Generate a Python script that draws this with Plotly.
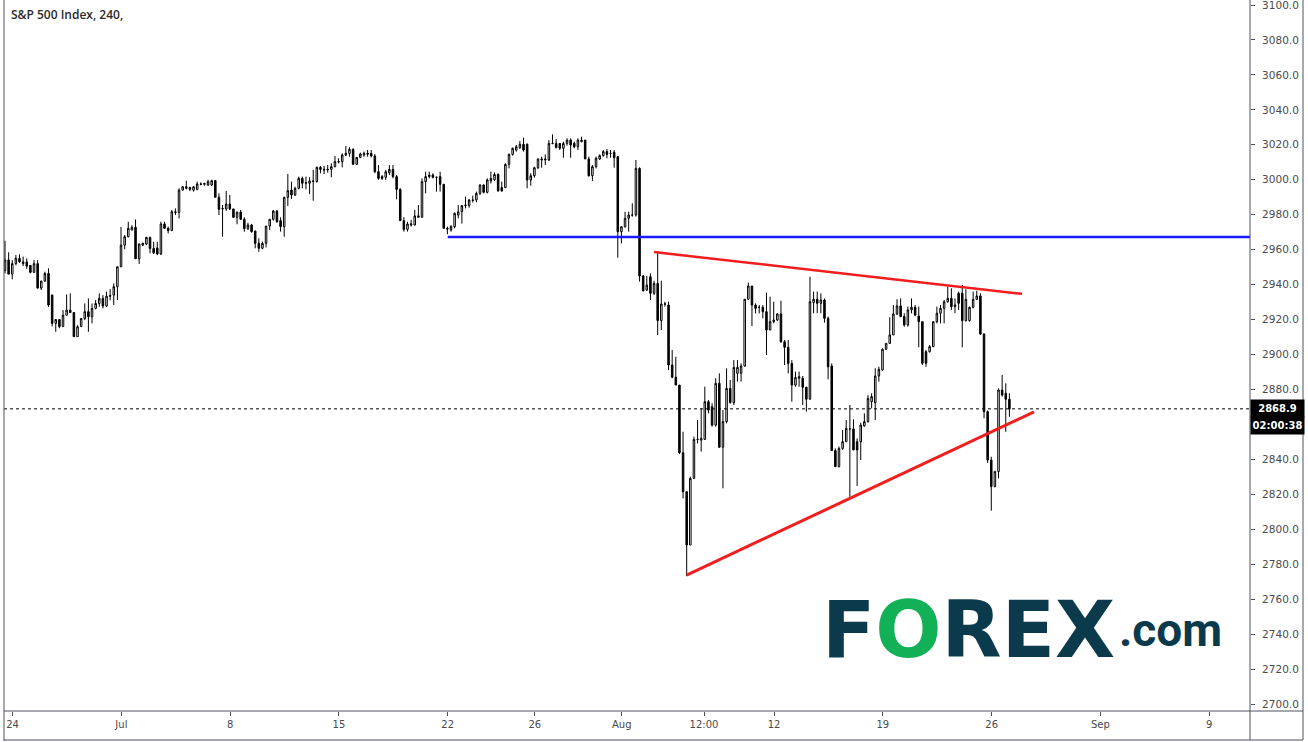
import plotly.graph_objects as go

# ---------------- data ----------------
OPEN = [
2948.0,2954.1,2946.0,2952.0,2955.0,2953.0,2953.0,2951.0,2947.0,2952.0,
2938.0,2942.0,2946.4,2934.0,2917.8,2920.0,2916.0,2922.5,2925.4,2924.0,
2910.2,2916.0,2920.6,2924.5,2921.6,2926.4,2929.2,2932.1,2927.7,2933.8,
2934.0,2938.8,2950.2,2962.6,2967.4,2971.2,2972.8,2954.8,2962.6,2963.2,
2967.0,2960.7,2961.0,2957.5,2974.7,2972.2,2970.9,2981.7,2981.3,2994.1,
2996.0,2995.5,2994.0,2994.5,2997.6,2997.4,2997.0,2997.0,2999.5,2990.0,
2983.3,2983.3,2986.1,2983.3,2978.5,2981.5,2977.4,2972.0,2974.1,2970.7,
2963.6,2960.8,2963.6,2973.5,2977.4,2982.1,2976.6,2973.2,2989.9,2994.1,
2991.3,2995.1,3000.8,2998.0,2998.0,2999.0,2999.0,3007.1,3006.0,3005.6,
3005.9,3007.5,3010.4,3010.4,3014.2,3015.1,3017.4,3008.8,3012.8,3014.2,
3015.1,3015.1,3013.6,3004.6,3001.8,3001.4,3004.0,3005.9,3001.8,2994.5,
2976.6,2971.6,2974.1,2974.1,2978.5,2978.5,2998.9,3001.8,3002.7,3001.4,
3001.8,2997.4,2972.2,2971.2,2973.2,2979.8,2981.7,2985.2,2985.2,2988.4,
2988.4,2992.2,2997.0,2992.8,2999.3,3000.0,3003.0,2995.5,2995.5,3008.8,
3014.5,3017.0,3018.4,3020.3,3020.3,2999.9,3002.3,3006.9,3011.3,3011.3,
3011.3,3020.8,3020.8,3020.8,3018.0,3020.8,3022.7,3020.8,3018.9,3021.8,
3022.7,3011.9,3002.3,3007.5,3011.9,3013.8,3016.1,3015.1,3015.7,3013.2,
2970.3,2973.0,2978.0,2979.8,2979.8,3006.5,2944.9,2936.9,2944.5,2935.0,
2940.7,2919.4,2928.9,2928.3,2894.0,2887.0,2882.5,2843.8,2821.5,2791.0,
2829.1,2851.4,2851.0,2851.4,2873.0,2870.1,2859.6,2883.5,2846.9,2861.6,
2880.6,2872.4,2889.2,2889.2,2893.4,2931.6,2939.2,2928.3,2927.0,2927.0,
2924.5,2914.0,2918.8,2919.7,2923.2,2907.3,2904.1,2894.9,2882.5,2886.4,
2886.4,2881.2,2874.4,2929.7,2931.6,2929.3,2931.2,2920.7,2893.4,2845.0,
2835.8,2846.3,2850.1,2857.4,2857.4,2850.1,2850.1,2859.1,2861.6,2873.0,
2872.4,2887.7,2891.1,2903.0,2906.4,2911.2,2923.2,2927.8,2921.7,2916.9,
2925.5,2927.0,2922.0,2918.8,2901.6,2901.6,2904.5,2918.8,2923.6,2926.4,
2930.2,2932.1,2927.4,2935.0,2935.0,2919.4,2919.4,2927.0,2931.6,2933.5,
2911.7,2867.3,2839.6,2824.4,2833.0,2879.7,2877.8,2874.4,
]
HIGH = [
2965.1,2958.5,2954.0,2957.0,2957.3,2956.0,2955.0,2951.2,2954.0,2954.0,
2942.2,2947.4,2949.3,2934.3,2920.1,2920.0,2925.4,2934.4,2935.0,2924.3,
2916.8,2920.6,2929.2,2932.1,2929.2,2931.2,2935.0,2934.0,2935.9,2937.4,
2940.7,2950.2,2973.0,2968.4,2976.0,2974.0,2977.3,2963.6,2964.0,2967.4,
2967.4,2964.5,2964.5,2976.0,2976.0,2973.2,2982.7,2983.6,2995.1,2996.2,
2999.5,2996.0,2996.2,2998.9,2998.5,2998.3,3000.0,3000.0,2999.9,2992.2,
2985.5,2993.6,2991.3,2983.3,2981.7,2982.7,2978.5,2975.4,2974.7,2970.7,
2966.5,2964.6,2973.5,2977.4,2982.7,2982.7,2978.5,2990.3,3003.3,2998.9,
2996.0,3001.8,3001.8,3001.8,3001.4,3005.6,3007.5,3007.9,3007.9,3008.4,
3009.4,3013.6,3012.3,3015.1,3019.3,3018.6,3018.0,3012.8,3015.5,3016.1,
3017.0,3017.0,3014.7,3008.4,3002.7,3005.6,3008.4,3008.4,3002.7,2995.1,
2978.5,2976.0,2977.0,2982.7,2985.5,3000.8,3004.6,3004.6,3003.7,3001.8,
3004.6,2997.4,2973.2,2974.1,2981.3,2985.5,2985.5,2990.3,2989.0,2990.9,
2993.2,2997.4,2997.4,3000.8,3004.6,3004.2,3003.7,2998.9,3009.4,3015.1,
3018.4,3019.9,3022.2,3024.1,3020.8,3003.7,3007.5,3012.3,3013.2,3014.5,
3022.7,3026.0,3023.3,3020.8,3021.8,3023.7,3023.7,3021.8,3023.7,3024.6,
3022.7,3013.2,3008.4,3013.2,3014.5,3017.0,3017.6,3017.0,3017.0,3013.2,
2973.3,2981.7,2981.7,2986.5,3011.3,3007.1,2945.5,2944.9,2946.4,2942.2,
2957.9,2942.2,2930.2,2930.2,2902.6,2898.7,2882.5,2855.8,2821.5,2830.1,
2853.0,2862.5,2869.2,2881.6,2874.0,2872.1,2886.4,2889.2,2868.2,2892.1,
2885.4,2896.8,2896.8,2894.9,2931.6,2941.1,2939.2,2929.3,2928.3,2928.3,
2935.4,2933.1,2930.2,2923.5,2930.8,2908.3,2908.3,2896.8,2890.2,2890.2,
2887.7,2881.6,2944.5,2936.0,2936.0,2935.0,2932.1,2921.7,2894.9,2846.3,
2847.3,2856.8,2862.5,2871.1,2862.9,2852.0,2861.0,2866.3,2876.8,2877.8,
2892.1,2893.0,2903.5,2906.4,2921.3,2928.3,2931.6,2932.1,2923.6,2927.4,
2932.1,2928.3,2927.4,2918.8,2902.6,2905.4,2918.8,2927.4,2928.3,2931.2,
2938.8,2937.9,2932.1,2936.0,2939.8,2937.3,2927.4,2936.0,2936.5,2935.0,
2912.1,2868.0,2841.5,2833.5,2880.6,2888.3,2883.5,2877.8,
]
LOW = [
2946.4,2946.0,2943.0,2951.0,2952.5,2950.6,2949.0,2946.4,2946.8,2937.8,
2936.9,2941.6,2927.3,2916.0,2913.0,2915.0,2915.9,2922.5,2923.9,2910.2,
2910.2,2916.0,2919.7,2913.0,2917.8,2925.8,2927.3,2926.4,2927.3,2931.0,
2928.3,2931.2,2950.0,2960.2,2967.0,2971.2,2954.8,2951.8,2962.0,2962.6,
2957.9,2957.5,2956.9,2956.9,2972.2,2969.3,2970.9,2979.8,2977.9,2993.8,
2994.5,2993.5,2993.2,2994.0,2996.8,2996.6,2996.5,2996.4,2989.9,2979.8,
2967.4,2982.3,2982.7,2978.5,2974.5,2977.0,2970.3,2971.2,2969.7,2960.8,
2958.8,2960.2,2961.3,2971.2,2976.6,2975.4,2970.3,2967.4,2985.0,2989.0,
2990.7,2994.5,2995.1,2994.5,2991.8,2988.0,2998.3,3003.7,3003.3,3004.1,
3001.4,3007.1,3009.4,3007.1,3013.6,3013.2,3008.8,3008.8,3012.3,3013.2,
3013.2,3012.8,3003.7,3000.0,2999.9,2999.9,3002.7,3000.8,2988.8,2976.6,
2970.3,2970.3,2973.2,2973.9,2978.5,2978.5,2992.2,3000.8,3000.8,2993.2,
2993.2,2972.2,2968.8,2970.3,2972.2,2977.9,2974.9,2983.6,2984.0,2987.0,
2987.1,2991.3,2992.2,2992.2,2997.9,2999.3,2993.2,2993.2,2995.5,3006.5,
3013.8,3016.1,3017.6,3016.1,2995.1,2996.6,3001.2,3006.1,3006.9,3008.4,
3010.7,3020.3,3018.0,3017.0,3012.6,3019.5,3012.6,3018.0,3017.0,3021.4,
3011.9,3001.8,2999.3,3006.5,3011.3,3013.2,3012.3,3012.6,3006.9,2955.4,
2963.6,2972.8,2970.3,2978.9,2978.9,2941.7,2936.0,2936.5,2931.2,2934.0,
2911.1,2914.0,2927.4,2891.1,2886.4,2882.5,2843.0,2817.7,2773.2,2791.0,
2829.1,2849.1,2844.4,2851.4,2866.3,2858.7,2858.7,2846.9,2823.4,2860.6,
2872.0,2871.1,2884.5,2884.5,2893.0,2931.2,2916.3,2923.5,2923.5,2920.7,
2899.7,2914.0,2917.8,2919.3,2906.7,2894.0,2889.2,2873.0,2881.6,2881.6,
2871.1,2867.3,2874.4,2923.6,2923.6,2923.6,2918.2,2885.8,2845.0,2835.8,
2835.4,2845.4,2850.1,2818.6,2845.4,2824.8,2839.6,2858.7,2861.0,2869.2,
2862.5,2884.5,2890.8,2902.6,2906.0,2911.2,2922.6,2921.3,2915.9,2915.9,
2923.6,2922.0,2904.1,2894.0,2893.0,2901.1,2904.1,2917.8,2917.8,2917.8,
2929.7,2925.5,2923.6,2925.5,2904.1,2918.8,2918.8,2926.4,2931.2,2911.2,
2863.5,2838.0,2810.6,2824.0,2829.1,2875.9,2855.8,2864.4,
]
CLOSE = [
2954.1,2946.0,2952.0,2955.0,2953.0,2952.0,2950.6,2947.0,2952.0,2938.0,
2942.0,2946.4,2928.3,2917.8,2920.0,2916.0,2922.5,2925.4,2924.0,2910.2,
2915.9,2920.6,2924.5,2921.6,2926.4,2929.2,2932.1,2927.7,2933.4,2933.4,
2938.8,2950.2,2962.6,2967.4,2972.2,2972.8,2954.8,2963.2,2963.6,2967.0,
2960.7,2958.2,2957.5,2974.7,2972.2,2970.9,2981.7,2981.3,2994.1,2996.0,
2995.1,2994.5,2996.0,2997.6,2997.4,2997.8,2998.9,2999.5,2990.0,2983.1,
2983.5,2986.1,2983.3,2978.5,2981.5,2977.4,2972.0,2974.1,2970.3,2963.6,
2960.8,2963.6,2973.5,2977.4,2982.1,2976.0,2973.2,2989.9,2993.8,2991.3,
2995.1,3000.8,2998.0,2998.3,2999.3,2999.3,3007.1,3005.9,3005.6,3005.9,
3007.5,3010.4,3010.2,3014.2,3015.1,3017.4,3008.8,3012.8,3014.7,3015.1,
3014.7,3013.6,3004.6,3000.8,3000.8,3004.6,3005.9,3001.8,2994.5,2976.6,
2971.6,2974.7,2974.7,2979.3,2979.3,2998.9,3001.8,3002.7,3001.4,3001.4,
2997.4,2972.2,2971.8,2973.2,2980.8,2981.7,2985.2,2985.5,2988.4,2988.2,
2992.2,2997.0,2992.8,2999.9,3000.8,3003.0,2993.6,2993.6,3008.8,3014.5,
3018.0,3018.9,3020.3,3017.0,2999.9,3002.3,3006.9,3011.8,3011.8,3011.8,
3020.8,3020.8,3018.4,3018.0,3020.8,3022.7,3019.9,3018.9,3022.7,3022.7,
3011.9,3002.3,3007.5,3012.3,3013.8,3016.1,3014.5,3015.1,3012.6,2970.3,
2973.1,2977.9,2979.8,2979.8,3006.5,2944.9,2936.5,2939.7,2935.0,2940.7,
2919.4,2928.9,2928.9,2894.0,2887.0,2882.5,2843.8,2821.5,2791.0,2829.1,
2851.4,2851.4,2852.0,2873.0,2868.2,2859.6,2883.5,2846.9,2861.6,2880.6,
2872.4,2892.6,2892.6,2893.4,2931.6,2939.2,2928.3,2926.4,2927.0,2924.5,
2914.0,2918.8,2919.7,2923.2,2907.3,2904.1,2894.9,2882.5,2886.9,2887.3,
2881.2,2874.4,2930.2,2931.6,2929.3,2931.2,2920.7,2893.0,2845.0,2835.8,
2846.3,2850.1,2857.7,2857.4,2845.4,2845.4,2859.6,2861.6,2874.9,2875.9,
2887.7,2891.5,2903.0,2906.4,2911.2,2923.2,2927.8,2921.7,2916.9,2925.5,
2927.0,2922.6,2918.8,2895.0,2895.0,2904.5,2918.8,2923.6,2926.4,2930.2,
2932.1,2927.4,2928.3,2929.3,2919.4,2931.6,2927.0,2931.6,2933.5,2911.7,
2867.3,2839.6,2824.4,2833.0,2879.7,2876.8,2874.4,2868.9,
]

BARS_PER_DAY = 6
FIRST_SESSION_BAR = 2.1          # bar index where the Jun 24 session starts
TICK_LABELS = ["24", "Jul", "8", "15", "22", "26", "Aug", "12:00", "12", "19", "26", "Sep", "9"]
TICK_TRADING_DAYS = [0, 5, 10, 15, 20, 24, 28, 31.78, 35, 40, 45, 50, 55]
PRICE_TICKS = [2700, 2720, 2740, 2760, 2780, 2800, 2820, 2840, 2880, 2900, 2920,
               2940, 2960, 2980, 3000, 3020, 3040, 3060, 3080, 3100]   # 2860 hidden by the price tag

LAST_PRICE = 2868.9
COUNTDOWN = "02:00:38"
SUPPORT_LEVEL = 2967.2
SUPPORT_START_DAY = 20
UPPER_TREND = [(179.0, 2958.6), (280.5, 2934.7)]   # (bar, price)
LOWER_TREND = [(188.0, 2773.8), (283.8, 2867.2)]

TITLE = "S&amp;P 500 Index, 240,"

# ---------------- layout geometry ----------------
W, H = 1308, 742
ML, MR, MT, MB = 4, 58, 0, 31
BAR_PX = 3.626
FIRST_BAR_PX = 5.0
plot_w = W - ML - MR
plot_h = H - MT - MB
x_lo = (ML - FIRST_BAR_PX) / BAR_PX
x_hi = (W - MR - FIRST_BAR_PX) / BAR_PX
Y_TOP, Y_BOT = 3102.86, 2696.0

def day_to_bar(d):
    return FIRST_SESSION_BAR + BARS_PER_DAY * d

def px_x(px):   # pixel -> paper x
    return (px - ML) / plot_w

def px_y(py):   # pixel -> paper y
    return (H - MB - py) / plot_h

n = len(CLOSE)
bars = list(range(n))

fig = go.Figure()
fig.add_trace(go.Candlestick(
    x=bars, open=OPEN, high=HIGH, low=LOW, close=CLOSE,
    increasing=dict(line=dict(color="#000000", width=1), fillcolor="#ffffff"),
    decreasing=dict(line=dict(color="#000000", width=1), fillcolor="#000000"),
    whiskerwidth=0, showlegend=False, hoverinfo="skip",
))

frame = "#50535e"
shapes = [
    dict(type="line", xref="x", yref="y", x0=day_to_bar(SUPPORT_START_DAY), x1=x_hi,
         y0=SUPPORT_LEVEL, y1=SUPPORT_LEVEL, line=dict(color="#1a1aff", width=2.5)),
    dict(type="line", xref="x", yref="y", x0=UPPER_TREND[0][0], y0=UPPER_TREND[0][1],
         x1=UPPER_TREND[1][0], y1=UPPER_TREND[1][1], line=dict(color="#f21d1d", width=2.5)),
    dict(type="line", xref="x", yref="y", x0=LOWER_TREND[0][0], y0=LOWER_TREND[0][1],
         x1=LOWER_TREND[1][0], y1=LOWER_TREND[1][1], line=dict(color="#f21d1d", width=3)),
    dict(type="line", xref="paper", yref="y", x0=0, x1=1, y0=LAST_PRICE, y1=LAST_PRICE,
         line=dict(color="#000000", width=1, dash="dot")),
    # frame
    dict(type="line", xref="paper", yref="paper", x0=0, x1=0, y0=px_y(741), y1=1,
         line=dict(color=frame, width=1)),
    dict(type="line", xref="paper", yref="paper", x0=0, x1=px_x(1303), y0=0, y1=0,
         line=dict(color=frame, width=1)),
    dict(type="line", xref="paper", yref="paper", x0=0, x1=px_x(1303), y0=px_y(740), y1=px_y(740),
         line=dict(color=frame, width=1)),
    dict(type="line", xref="paper", yref="paper", x0=px_x(1303), x1=px_x(1303), y0=px_y(740), y1=1,
         line=dict(color=frame, width=1)),
    dict(type="line", xref="paper", yref="paper", x0=1, x1=1, y0=px_y(740), y1=1,
         line=dict(color=frame, width=1)),
]

annotations = [
    dict(text=TITLE, xref="paper", yref="paper", x=px_x(9), y=px_y(15),
         xanchor="left", yanchor="middle", showarrow=False,
         font=dict(family="Open Sans", size=12, color="#2b2b2b", weight=600)),
    dict(text="<b>%.1f</b>" % LAST_PRICE, xref="paper", yref="y", x=1, y=LAST_PRICE,
         xanchor="left", yanchor="middle", showarrow=False, bgcolor="#000000",
         width=51, height=15, borderpad=1,
         font=dict(family="DejaVu Sans", size=10, color="#ffffff")),
    dict(text="<b>%s</b>" % COUNTDOWN, xref="paper", yref="y", x=1, y=LAST_PRICE, yshift=-17,
         xanchor="left", yanchor="middle", showarrow=False, bgcolor="#000000",
         width=51, height=15, borderpad=1,
         font=dict(family="DejaVu Sans", size=10, color="#ffffff")),
    # logo
    dict(text="F<span style='color:#12b157'>O</span>REX", xref="paper", yref="paper",
         x=px_x(820), y=px_y(630), xanchor="left", yanchor="middle", showarrow=False,
         font=dict(family="DejaVu Sans", size=78, color="#0a3a4c", weight=700)),
    dict(text=".com", xref="paper", yref="paper",
         x=px_x(1117), y=px_y(630), xanchor="left", yanchor="middle", showarrow=False,
         font=dict(family="Roboto", size=46, color="#0a3a4c", weight=700)),
]

fig.update_layout(
    width=W, height=H,
    margin=dict(l=ML, r=MR, t=MT, b=MB),
    paper_bgcolor="#ffffff", plot_bgcolor="#ffffff",
    boxgap=0.4,
    shapes=shapes, annotations=annotations,
    xaxis=dict(
        range=[x_lo, x_hi], showgrid=False, zeroline=False, rangeslider=dict(visible=False),
        tickmode="array", tickvals=[day_to_bar(d) for d in TICK_TRADING_DAYS], ticktext=TICK_LABELS,
        ticks="outside", ticklen=4, tickcolor=frame, showline=False,
        tickfont=dict(family="DejaVu Sans", size=10, color="#4a4a4a"),
    ),
    yaxis=dict(
        range=[Y_BOT, Y_TOP], side="right", showgrid=False, zeroline=False,
        tickmode="array", tickvals=PRICE_TICKS, tickformat=".1f",
        ticks="outside", ticklen=4, tickcolor=frame, showline=False,
        ticklabelstandoff=5, ticklabeloverflow="allow",
        tickfont=dict(family="DejaVu Sans", size=10.5, color="#4a4a4a"),
    ),
)

fig.write_html(
    "out.html",
    config={"displayModeBar": False},
    post_script="document.body.style.margin='0';document.body.style.overflow='hidden';",
)
